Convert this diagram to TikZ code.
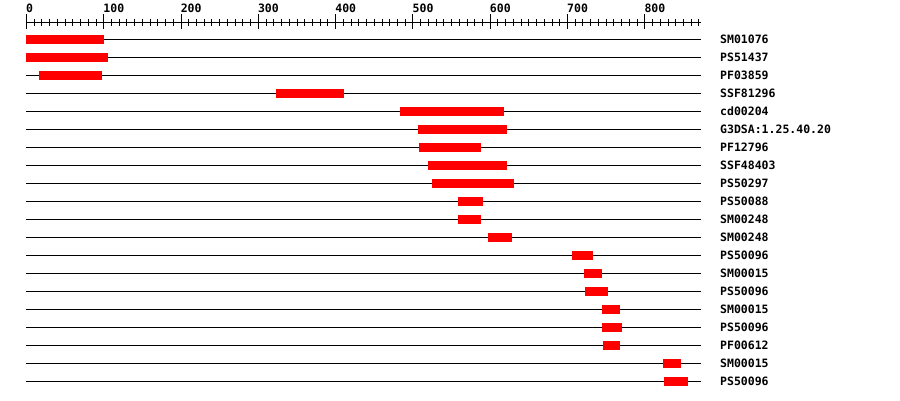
\documentclass[tikz,border=0pt]{standalone}
\usepackage{fontspec}
\setmonofont{DejaVu Sans Mono}
\begin{document}
\begin{tikzpicture}[x=1pt,y=-1pt,
  lab/.style={anchor=west, inner sep=0pt, font=\ttfamily\bfseries\fontsize{11.5}{12}\selectfont},
  track/.style={line width=1pt, black},
  bar/.style={fill=red}]
\useasboundingbox[fill=white] (0,0) rectangle (900,400);
% axis
\coordinate (axL) at (26,22.5);
\coordinate (axR) at (701,22.5);
\draw[track] (axL) -- (axR);
\foreach \k in {0,...,87}{
  \pgfmathsetmacro\xx{26.5+\k*7.729}
  \pgfmathtruncatemacro\m{mod(\k,10)}
  \ifnum\m=0
    \draw[track] (\xx,14) -- (\xx,28.5);
  \else
    \draw[track] (\xx,19) -- (\xx,25.5);
  \fi
}
\foreach \v in {0,100,...,800}{
  \pgfmathsetmacro\xx{26+\v*0.7729}
  \node[lab] (ax\v) at (\xx,8) {\v};
}
% rows
\foreach \i/\a/\b/\t in {
  1/26/104/SM01076,
  2/26/108/PS51437,
  3/39/102/PF03859,
  4/276/344/SSF81296,
  5/400/504/cd00204,
  6/418/507/G3DSA:1.25.40.20,
  7/419/481/PF12796,
  8/428/507/SSF48403,
  9/432/514/PS50297,
  10/458/483/PS50088,
  11/458/481/SM00248,
  12/488/512/SM00248,
  13/572/593/PS50096,
  14/584/602/SM00015,
  15/585/608/PS50096,
  16/602/620/SM00015,
  17/602/622/PS50096,
  18/603/620/PF00612,
  19/663/681/SM00015,
  20/664/688/PS50096}{
  \pgfmathsetmacro\yy{39.5+18*(\i-1)}
  \coordinate (s\i) at (26,\yy);
  \coordinate (e\i) at (701,\yy);
  \draw[track] (s\i) -- (e\i);
  \fill[bar] (\a,\yy-4.5) rectangle (\b,\yy+4.5);
  \node[lab] (lab\i) at (720,\yy) {\t};
}
\end{tikzpicture}
\end{document}
